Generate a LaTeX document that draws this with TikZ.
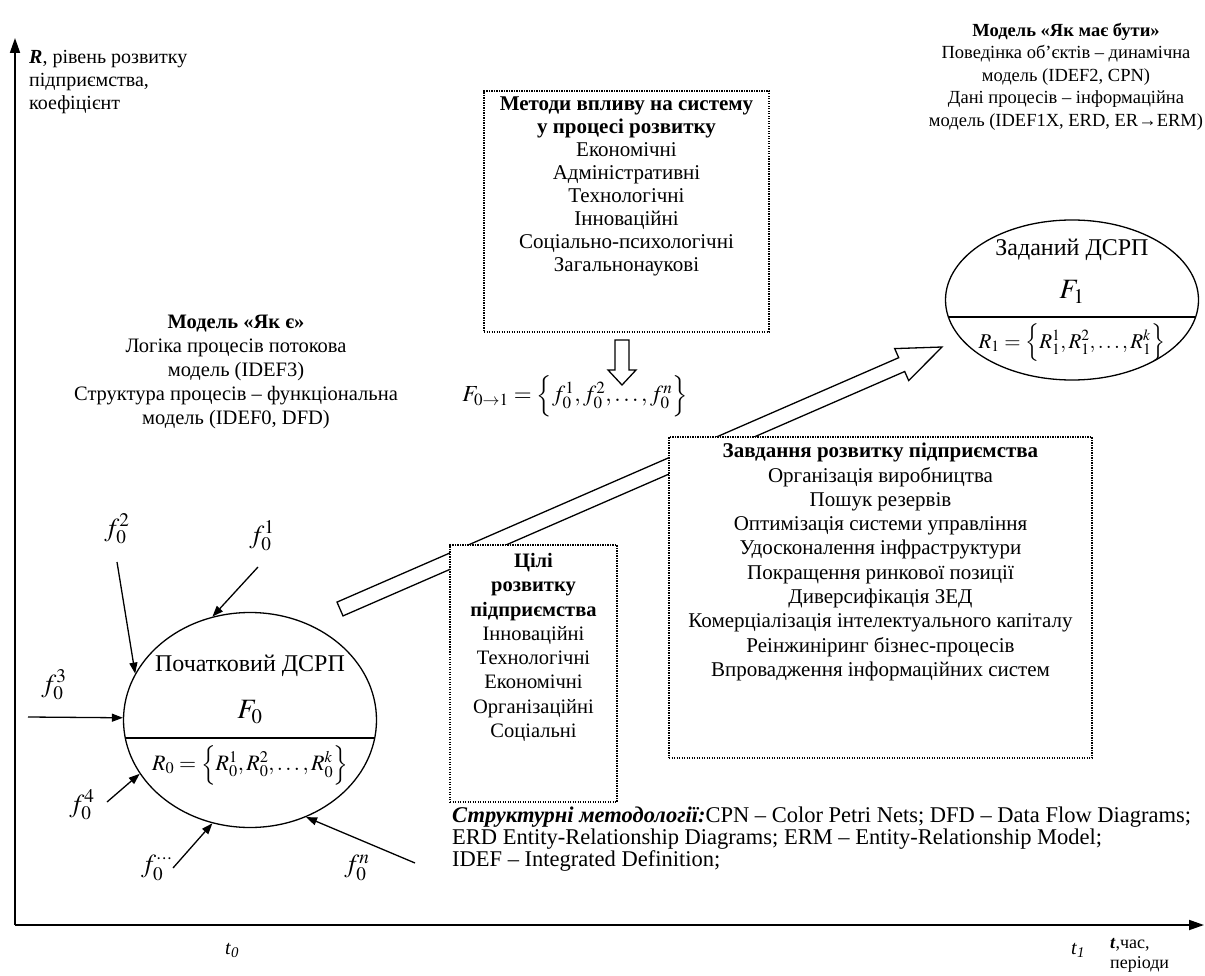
\documentclass[tikz,border=0pt]{standalone}
\usepackage{mathptmx}
\usepackage{fontspec}
\setmainfont{Liberation Serif}
\usetikzlibrary{arrows.meta,shapes.geometric}
\newcommand\fsz[2]{\fontsize{#1pt}{#2pt}\selectfont}
\begin{document}
\begin{tikzpicture}[x=1pt,y=-1pt,
  txt/.style={align=center,inner sep=0pt},
  dotbox/.style={draw,dash pattern=on 1.2pt off 1.3pt,line width=1.3pt,fill=white,inner sep=0pt},
  fline/.style={line width=1.3pt,-{Triangle[length=11pt,width=8pt]}},
  flab/.style={inner sep=0pt,font=\fsz{26}{30}},
  axisline/.style={line width=1.8pt,-{Triangle[length=15pt,width=10pt]}},
  oval/.style={draw,ellipse,line width=1.3pt,minimum width=253pt,inner sep=0pt},
  hollow/.style={draw,line width=1.3pt,fill=white,line join=miter}]
\useasboundingbox (0,0) rectangle (1205,976);
% axes
\coordinate (O) at (15,925);
\coordinate (Ytop) at (15,38);
\coordinate (Xend) at (1204,925);
\draw[axisline] (O) -- (Ytop);
\draw[axisline] (O) -- (Xend);
\node[txt,align=left,anchor=north west,font=\fsz{20}{23}] (ylab) at (29,50)
  {\textbf{\textit{R}}, рівень розвитку\\підприємства,\\коефіцієнт};
\node[txt,font=\fsz{20}{23}] (t0) at (232,950) {\textit{t}\textsubscript{\textit{0}}};
\node[txt,font=\fsz{20}{23}] (t1) at (1078,950) {\textit{t}\textsubscript{\textit{1}}};
\node[txt,align=left,anchor=north west,font=\fsz{18}{20}] (tlab) at (1110,938)
  {\textbf{\textit{t}},час,\\періоди};
% top right text
\node[txt,anchor=north,font=\fsz{18.5}{22.5}] (tobe) at (1066,23)
  {\textbf{Модель «Як має бути»}\\Поведінка об’єктів – динамічна\\модель (IDEF2, CPN)\\Дані процесів – інформаційна\\модель (IDEF1X, ERD, ER→ERM)};
% left text
\node[txt,anchor=north,font=\fsz{20.5}{24}] (asis) at (236,315)
  {\textbf{Модель «Як є»}\\Логіка процесів потокова\\модель (IDEF3)\\Структура процесів – функціональна\\модель (IDEF0, DFD)};
% big hollow arrow
\draw[hollow] (337.0,602.1) -- (898.7,357.7) -- (894.7,348.6) -- (942,347) -- (908.7,380.6) -- (904.7,371.5) -- (343.0,615.9) -- cycle;
% methods box
\node[dotbox,minimum width=285pt,minimum height=241pt] (mbox) at (626.5,211.5) {};
\node[txt,anchor=north,font=\fsz{21}{23}] (mtext) at (626.5,97)
  {\textbf{Методи впливу на систему}\\\textbf{у процесі розвитку}\\Економічні\\Адміністративні\\Технологічні\\Інноваційні\\Соціально-психологічні\\Загальнонаукові};
\draw[hollow] (615,340) -- (629,340) -- (629,370) -- (636,370) -- (622,385) -- (608,370) -- (615,370) -- cycle;
\node[txt,font=\fsz{23}{27}] (form) at (575,396)
  {$F_{0\rightarrow 1}=\Big\{f_0^1, f_0^2, \dots, f_0^n\Big\}$};
% goals box
\node[dotbox,minimum width=167pt,minimum height=257pt] (gbox) at (533.5,673.5) {};
\node[txt,anchor=north,font=\fsz{20.5}{24.3}] (gtext) at (533.5,553)
  {\textbf{Цілі}\\\textbf{розвитку}\\\textbf{підприємства}\\Інноваційні\\Технологічні\\Економічні\\Організаційні\\Соціальні};
% tasks box
\node[dotbox,minimum width=423pt,minimum height=321pt] (tbox) at (880.5,597.5) {};
\node[txt,anchor=north,font=\fsz{21}{24.3}] (ttext) at (880.5,443)
  {\textbf{Завдання розвитку підприємства}\\Організація виробництва\\Пошук резервів\\Оптимізація системи управління\\Удосконалення інфраструктури\\Покращення ринкової позиції\\Диверсифікація ЗЕД\\Комерціалізація інтелектуального капіталу\\Реінжиніринг бізнес-процесів\\Впровадження інформаційних систем};
% bottom text
\node[txt,align=left,anchor=north west,font=\fsz{22.5}{22}] (note) at (452,807)
  {\textbf{\textit{Структурні методології:}}CPN – Color Petri Nets; DFD – Data Flow Diagrams;\\ERD Entity-Relationship Diagrams; ERM – Entity-Relationship Model;\\IDEF – Integrated Definition;};
% left ellipse
\node[oval,minimum height=215pt] (e0) at (250,720) {};
\begin{scope}
\clip (250,720) ellipse [x radius=126.5pt, y radius=107.5pt];
\draw[line width=1.3pt] (100,738) -- (400,738);
\end{scope}
\node[txt,font=\fsz{24}{28}] (e0a) at (250,666) {Початковий ДСРП};
\node[txt,font=\fsz{28}{32}] (e0b) at (250,712) {$F_0$};
\node[txt,font=\fsz{22}{26}] (e0c) at (250,765) {$R_0=\Big\{R_0^1,R_0^2,\dots,R_0^k\Big\}$};
% right ellipse
\node[oval,minimum height=160pt] (e1) at (1072,300) {};
\begin{scope}
\clip (1072,300) ellipse [x radius=126.5pt, y radius=80pt];
\draw[line width=1.3pt] (900,317) -- (1250,317);
\end{scope}
\node[txt,font=\fsz{24}{28}] (e1a) at (1072,250) {Заданий ДСРП};
\node[txt,font=\fsz{28}{32}] (e1b) at (1072,292) {$F_1$};
\node[txt,font=\fsz{21}{25}] (e1c) at (1072,343) {$R_1=\Big\{R_1^1,R_1^2,\dots,R_1^k\Big\}$};
% influences
\node[flab] (fl1) at (262,536) {$f_0^1$};
\node[flab] (fl2) at (117,529) {$f_0^2$};
\node[flab] (fl3) at (54,685) {$f_0^3$};
\node[flab] (fl4) at (82,805) {$f_0^4$};
\node[flab] (fl5) at (157,868) {$f_0^{\cdots}$};
\node[flab] (fl6) at (357,868) {$f_0^n$};
\coordinate (fs1) at (258,567);
\coordinate (fs2) at (117,562);
\coordinate (fs3) at (28,717);
\coordinate (fs4) at (107,802);
\coordinate (fs5) at (173,868);
\coordinate (fs6) at (415,863);
\draw[fline] (fs1) -- (e0.110);
\draw[fline] (fs2) -- (e0.158);
\draw[fline] (fs3) -- (e0.179);
\draw[fline] (fs4) -- (e0.206);
\draw[fline] (fs5) -- (e0.250);
\draw[fline] (fs6) -- (e0.300);
\end{tikzpicture}
\end{document}
